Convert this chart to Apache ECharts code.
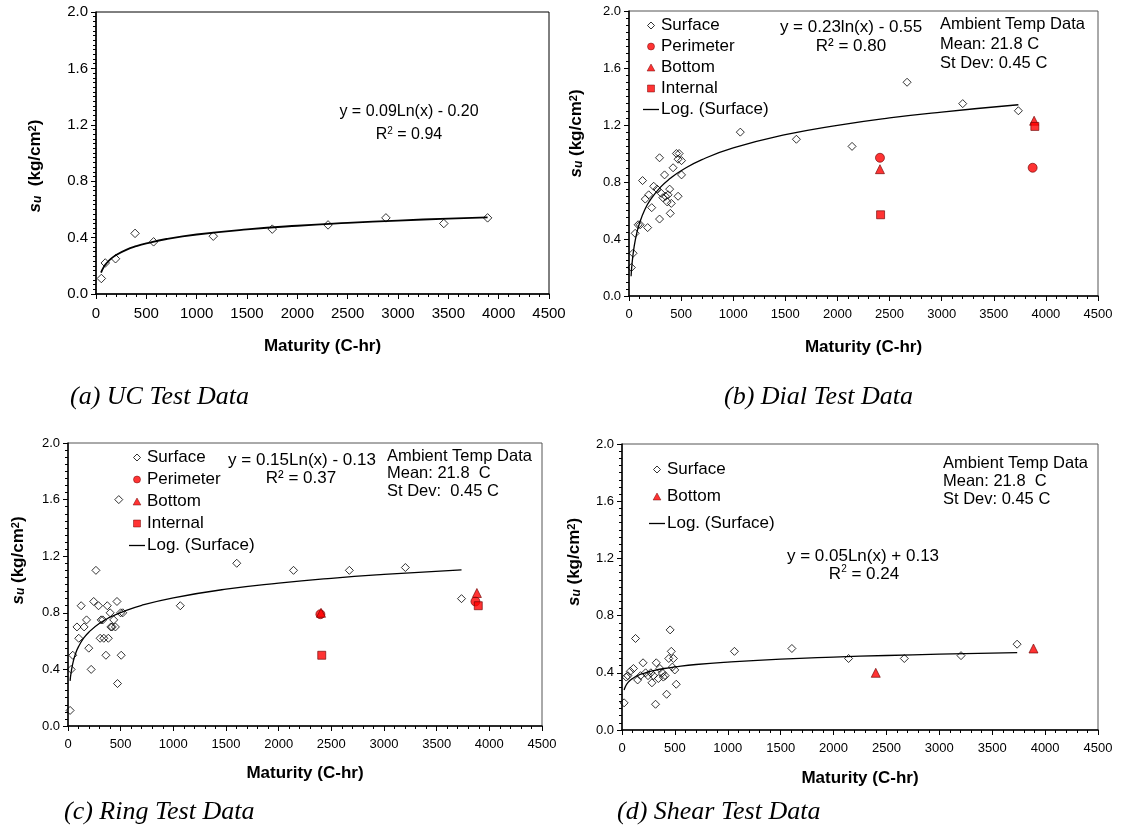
<!DOCTYPE html>
<html>
<head>
<meta charset="utf-8">
<style>
html, body { margin: 0; padding: 0; background: #fff; }
#chart { width: 1121px; height: 826px; }
</style>
<script src="https://cdn.jsdelivr.net/npm/echarts@6/dist/echarts.min.js"></script>
</head>
<body>
<div id="chart"></div>
<script>
// (a) UC test
var surfaceA = [[53,0.11],[92,0.22],[194,0.25],[388,0.43],[572,0.37],[1165,0.41],[1751,0.46],[2305,0.49],[2880,0.54],[3455,0.50],[3890,0.54]];
var trendXA = [50,75,100,150,200,300,400,500,700,1000,1500,2000,2500,3000,3500,3890];
var trendYA = [0.152,0.189,0.214,0.251,0.277,0.313,0.339,0.359,0.390,0.422,0.458,0.484,0.504,0.521,0.535,0.544];

// (b) Dial test
var surfaceB = [[23,0.20],[39,0.30],[59,0.44],[88,0.50],[107,0.50],[130,0.81],[156,0.68],[179,0.48],[189,0.71],[218,0.62],[237,0.77],[270,0.75],[293,0.97],[293,0.54],[310,0.72],[325,0.69],[341,0.85],[350,0.70],[367,0.66],[375,0.71],[390,0.75],[396,0.58],[406,0.65],[423,0.90],[455,1.00],[471,0.96],[471,0.70],[481,1.00],[504,0.95],[504,0.85],[1068,1.15],[1606,1.10],[2140,1.05],[2668,1.50],[3202,1.35],[3736,1.30]];
var perimeterB = [[2408,0.97],[3873,0.90]];
var bottomB = [[2408,0.89],[3887,1.23]];
var internalB = [[2414,0.57],[3894,1.19]];

// (c) Ring test
var surfaceC = [[20,0.11],[30,0.40],[45,0.50],[85,0.70],[102,0.62],[125,0.85],[153,0.70],[176,0.75],[197,0.55],[220,0.40],[244,0.88],[265,1.10],[290,0.85],[305,0.62],[315,0.75],[330,0.75],[340,0.62],[360,0.50],[373,0.85],[383,0.62],[400,0.80],[407,0.70],[420,0.70],[434,0.75],[450,0.70],[465,0.88],[470,0.30],[482,1.60],[500,0.80],[505,0.50],[520,0.80],[1066,0.85],[1602,1.15],[2141,1.10],[2671,1.10],[3203,1.12],[3736,0.90]];
var perimeterC = [[2396,0.79],[3868,0.88]];
var bottomC = [[2402,0.80],[3882,0.94]];
var internalC = [[2409,0.50],[3895,0.85]];

// (d) Shear test
var surfaceD = [[20,0.19],[40,0.37],[55,0.38],[78,0.41],[108,0.43],[128,0.64],[148,0.35],[175,0.38],[199,0.47],[223,0.40],[246,0.38],[273,0.40],[283,0.33],[297,0.38],[317,0.18],[324,0.47],[344,0.36],[358,0.43],[381,0.40],[391,0.37],[408,0.38],[422,0.25],[442,0.50],[455,0.70],[466,0.55],[476,0.44],[486,0.50],[499,0.42],[513,0.32],[1063,0.55],[1606,0.57],[2142,0.50],[2669,0.50],[3205,0.52],[3735,0.60]];
var bottomD = [[2399,0.40],[3890,0.57]];

var trendX = [20,30,50,75,100,150,200,300,400,500,700,1000,1500,2000,2500,3000,3736];
var trendYB = [0.139,0.232,0.350,0.443,0.509,0.603,0.669,0.762,0.828,0.879,0.957,1.039,1.132,1.198,1.250,1.291,1.342];
var trendYC = [0.319,0.380,0.457,0.518,0.561,0.622,0.665,0.726,0.769,0.802,0.853,0.906,0.967,1.010,1.044,1.071,1.104];
var trendYD = [0.280,0.300,0.326,0.346,0.360,0.381,0.395,0.415,0.430,0.441,0.458,0.475,0.496,0.510,0.521,0.530,0.541];

var SANS = '"Liberation Sans", Arial, sans-serif';
var SERIF = '"Liberation Serif", "Times New Roman", serif';

function pairs(xs, ys) {
    return xs.map(function (x, i) { return [x, ys[i]]; });
}

var grids = [
    {left: 96, top: 12, width: 453, height: 282, borderColor: '#000'},
    {left: 629, top: 11, width: 469, height: 285, borderColor: '#555'},
    {left: 68, top: 443, width: 474, height: 283, borderColor: '#555'},
    {left: 622, top: 444, width: 476, height: 286, borderColor: '#555'}
];
// per panel settings
var tickSize = [15, 13, 13, 13];
var yMinorSplit = [12, 8, 8, 8];
var xNameGap = [44, 43, 39, 40];
var yNameGap = [52, 44, 41, 39];
var yNamePad = [[0, 26, 0, 0], [0, 0, 0, 40], [0, 0, 0, 48], [0, 0, 0, 50]];
var yNames = ['{s|s}{sub|u}{b|  (kg/cm}{sup|2}{b|)}', '{s|s}{sub|u}{b| (kg/cm}{sup|2}{b|)}',
              '{s|s}{sub|u}{b| (kg/cm}{sup|2}{b|)}', '{s|s}{sub|u}{b| (kg/cm}{sup|2}{b|)}'];

var richName = {
    s: {fontSize: 17, fontWeight: 'bold', fontStyle: 'italic', fontFamily: SANS, lineHeight: 17, color: '#000'},
    sub: {fontSize: 12, fontWeight: 'bold', fontStyle: 'italic', fontFamily: SANS, lineHeight: 12, verticalAlign: 'bottom', color: '#000'},
    b: {fontSize: 17, fontWeight: 'bold', fontFamily: SANS, lineHeight: 17, color: '#000'},
    sup: {fontSize: 11, fontWeight: 'bold', fontFamily: SANS, lineHeight: 11, verticalAlign: 'top', color: '#000'}
};

var xAxes = [], yAxes = [];
grids.forEach(function (g, i) {
    xAxes.push({
        type: 'value', gridIndex: i, min: 0, max: 4500, interval: 500,
        axisLine: {lineStyle: {color: '#000', width: 1.5}},
        axisTick: {length: 5, lineStyle: {color: '#000'}},
        minorTick: {show: true, splitNumber: 5, length: 3, lineStyle: {color: '#000'}},
        splitLine: {show: false},
        axisLabel: {color: '#000', fontSize: tickSize[i], fontFamily: SANS, margin: 12,
            formatter: function (v) { return String(v); }},
        name: 'Maturity (C-hr)', nameLocation: 'middle', nameGap: xNameGap[i],
        nameTextStyle: {color: '#000', fontSize: 17, fontWeight: 'bold', fontFamily: SANS}
    });
    yAxes.push({
        type: 'value', gridIndex: i, min: 0, max: 2, interval: 0.4,
        axisLine: {lineStyle: {color: '#000', width: 1.5}},
        axisTick: {length: 5, lineStyle: {color: '#000'}},
        minorTick: {show: true, splitNumber: yMinorSplit[i], length: 3, lineStyle: {color: '#000'}},
        splitLine: {show: false},
        axisLabel: {color: '#000', fontSize: tickSize[i], fontFamily: SANS, margin: 8,
            formatter: function (v) { return v.toFixed(1); }},
        name: yNames[i], nameLocation: 'middle', nameRotate: 90, nameGap: yNameGap[i],
        nameTextStyle: {padding: yNamePad[i], lineHeight: 24, rich: richName}
    });
});

function diamond(size) {
    return {symbol: 'diamond', symbolSize: size,
        itemStyle: {color: 'rgba(255,255,255,0)', borderColor: '#000', borderWidth: 1}};
}
function red(symbol, size) {
    return {symbol: symbol, symbolSize: size,
        itemStyle: {color: '#ff0000', borderColor: '#6b0000', borderWidth: 0.8}};
}
function scatter(name, data, idx, style) {
    return Object.assign({type: 'scatter', name: name, data: data, xAxisIndex: idx, yAxisIndex: idx,
        silent: true, z: 2}, style);
}
function trend(xs, ys, idx, w) {
    return {type: 'line', name: 'Log. (Surface)', data: pairs(xs, ys), xAxisIndex: idx, yAxisIndex: idx,
        smooth: true, symbol: 'none', showSymbol: false, silent: true, z: 3,
        lineStyle: {color: '#000', width: w}, itemStyle: {color: '#000'}};
}

var series = [
    scatter('Surface', surfaceA, 0, diamond(8.5)),
    trend(trendXA, trendYA, 0, 1.8),
    scatter('Surface', surfaceB, 1, diamond(8)),
    scatter('Perimeter', perimeterB, 1, red('circle', 9)),
    scatter('Bottom', bottomB, 1, red('triangle', 9)),
    scatter('Internal', internalB, 1, red('rect', 8)),
    trend(trendX, trendYB, 1, 1.3),
    scatter('Surface', surfaceC, 2, diamond(8)),
    scatter('Perimeter', perimeterC, 2, red('circle', 9)),
    scatter('Bottom', bottomC, 2, red('triangle', 9)),
    scatter('Internal', internalC, 2, red('rect', 8)),
    trend(trendX, trendYC, 2, 1.3),
    scatter('Surface', surfaceD, 3, diamond(8)),
    scatter('Bottom', bottomD, 3, red('triangle', 9)),
    trend(trendX, trendYD, 3, 1.3)
];

// legend icons as paths so they keep their aspect inside the 16x7 item box
var redLegend = {color: '#ff0000', borderColor: '#6b0000', borderWidth: 0.6};
var legendItems = {
    'Surface': {name: 'Surface', icon: 'path://M5,0L10,5L5,10L0,5Z',
        itemStyle: {color: 'rgba(255,255,255,0)', borderColor: '#000', borderWidth: 1}},
    'Perimeter': {name: 'Perimeter', icon: 'circle', itemStyle: redLegend},
    'Bottom': {name: 'Bottom', icon: 'path://M5,0L10,9L0,9Z', itemStyle: redLegend},
    'Internal': {name: 'Internal', icon: 'path://M0,0L10,0L10,10L0,10Z', itemStyle: redLegend},
    'Log. (Surface)': {name: 'Log. (Surface)', icon: 'path://M0,0L16,0L16,1.3L0,1.3Z',
        itemStyle: {color: '#000', borderWidth: 0}}
};
function legend(left, top, gap, names) {
    return {orient: 'vertical', left: left, top: top, padding: 0, itemGap: gap,
        itemWidth: 16, itemHeight: 7, selectedMode: false,
        data: names.map(function (n) { return legendItems[n]; }),
        textStyle: {color: '#000', fontSize: 17, fontFamily: SANS, padding: [0, 0, 0, -3]}};
}

function txt(x, y, text, size, align) {
    return {type: 'text', x: x, y: y, silent: true, style: {
        text: text, fill: '#000', font: size + 'px ' + SANS,
        align: align, textAlign: align, verticalAlign: 'middle', textVerticalAlign: 'middle'}};
}
function cap(x, y, text) {
    return {type: 'text', x: x, y: y, silent: true, style: {
        text: text, fill: '#000', font: 'italic 26px ' + SERIF,
        align: 'left', textAlign: 'left', verticalAlign: 'middle', textVerticalAlign: 'middle'}};
}
function rsq(x, y, val, size) {
    return {type: 'text', x: x, y: y, silent: true, style: {
        text: '{t|R}{p|2}{t| = ' + val + '}', align: 'center', textAlign: 'center',
        verticalAlign: 'middle', textVerticalAlign: 'middle',
        rich: {t: {fontSize: size, fontFamily: SANS, fill: '#000', lineHeight: size + 2},
               p: {fontSize: 10, fontFamily: SANS, fill: '#000', lineHeight: 10, verticalAlign: 'top'}}}};
}

var graphics = [
    // (a)
    txt(409, 112, 'y = 0.09Ln(x) - 0.20', 16, 'center'),
    rsq(409, 135, '0.94', 16),
    cap(70, 397, '(a) UC Test Data'),
    // (b)
    txt(851, 27, 'y = 0.23ln(x) - 0.55', 17, 'center'),
    txt(851, 46, 'R\u00b2 = 0.80', 17, 'center'),
    txt(940, 24, 'Ambient Temp Data', 16.5, 'left'),
    txt(940, 44, 'Mean: 21.8 C', 16.5, 'left'),
    txt(940, 63, 'St Dev: 0.45 C', 16.5, 'left'),
    cap(724, 397, '(b) Dial Test Data'),
    // (c)
    txt(302, 460, 'y = 0.15Ln(x) - 0.13', 17, 'center'),
    txt(301, 478, 'R\u00b2 = 0.37', 17, 'center'),
    txt(387, 456, 'Ambient Temp Data', 16.5, 'left'),
    txt(387, 473, 'Mean: 21.8  C', 16.5, 'left'),
    txt(387, 491, 'St Dev:  0.45 C', 16.5, 'left'),
    cap(64, 812, '(c) Ring Test Data'),
    // (d)
    txt(863, 556, 'y = 0.05Ln(x) + 0.13', 17, 'center'),
    rsq(864, 574, '0.24', 17),
    txt(943, 463, 'Ambient Temp Data', 16.5, 'left'),
    txt(943, 481, 'Mean: 21.8  C', 16.5, 'left'),
    txt(943, 499, 'St Dev: 0.45 C', 16.5, 'left'),
    cap(617, 812, '(d) Shear Test Data')
];

var chart = echarts.init(document.getElementById('chart'), null, {renderer: 'canvas'});
chart.setOption({
    animation: false,
    backgroundColor: '#fff',
    grid: grids.map(function (g) {
        return {left: g.left, top: g.top, width: g.width, height: g.height, show: true,
            borderColor: g.borderColor, borderWidth: 1, backgroundColor: 'transparent'};
    }),
    xAxis: xAxes,
    yAxis: yAxes,
    legend: [
        legend(643, 17, 4, ['Surface', 'Perimeter', 'Bottom', 'Internal', 'Log. (Surface)']),
        legend(129, 449, 5, ['Surface', 'Perimeter', 'Bottom', 'Internal', 'Log. (Surface)']),
        legend(649, 461, 10, ['Surface', 'Bottom', 'Log. (Surface)'])
    ],
    series: series,
    graphic: graphics
});
</script>
</body>
</html>
